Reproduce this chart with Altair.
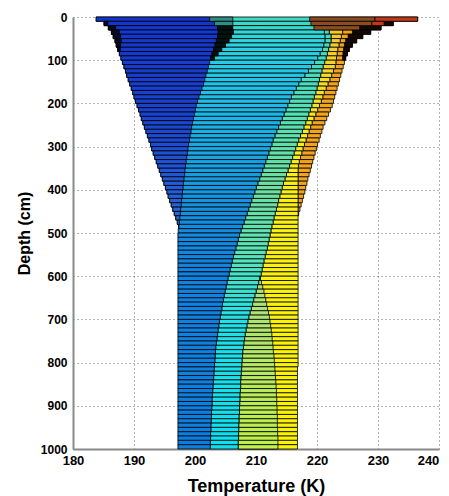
import altair as alt
import pandas as pd

# ---------------- data ----------------
# bars are 10 cm thick rows; row r spans depth 10*r .. 10*r+10 cm
ROW_TOP = list(range(0, 1000, 10))

# left envelope (left edge of dark-blue band, then of the blue band)
C1 = [183.8, 185.1, 185.8, 186.3, 186.6, 186.9, 187.1, 187.35, 187.6, 187.85,
      188.1, 188.35, 188.6, 188.8, 189.05, 189.3, 189.55, 189.8, 190.0, 190.25,
      190.5, 190.75, 191.0, 191.2, 191.45, 191.7, 191.95, 192.2, 192.45, 192.7,
      192.9, 193.15, 193.4, 193.65, 193.9, 194.15, 194.4, 194.65, 194.9, 195.15,
      195.4, 195.6, 195.85, 196.1, 196.35, 196.6, 196.85, 197.1, 197.3, 197.25] + [197.2] * 50

# right edge of dark-blue band (rows 0..48)
C2 = [202.4, 203.2, 203.7, 203.8, 203.7, 203.5, 203.3, 203.05, 202.8, 202.6,
      202.4, 202.2, 202.0, 201.8, 201.6, 201.4, 201.15, 200.9, 200.65, 200.4,
      200.2, 200.05, 199.9, 199.75, 199.6, 199.45, 199.35, 199.2, 199.1, 198.95,
      198.85, 198.75, 198.65, 198.55, 198.45, 198.35, 198.3, 198.2, 198.1, 198.05,
      197.95, 197.9, 197.8, 197.75, 197.65, 197.6, 197.5, 197.45, 197.35]

# blue | cyan boundary
C3 = [219.0, 220.0, 220.8, 221.2, 221.3, 221.3, 221.1, 220.9, 220.5, 220.1,
      219.6, 219.1, 218.6, 218.0, 217.4, 217.0, 216.6, 216.2, 215.8, 215.5,
      215.2, 214.9, 214.6, 214.3, 214.0, 213.7, 213.4, 213.1, 212.8, 212.6,
      212.35, 212.1, 211.85, 211.6, 211.35, 211.1, 210.85, 210.6, 210.3, 210.05,
      209.8, 209.55, 209.3, 209.05, 208.8, 208.55, 208.3, 208.05, 207.8, 207.55,
      207.3, 207.1, 206.9, 206.7, 206.5, 206.3, 206.1, 205.95, 205.75, 205.6,
      205.4, 205.25, 205.1, 204.95, 204.8, 204.65, 204.5, 204.4, 204.25, 204.15,
      204.0, 203.9, 203.8, 203.7, 203.6, 203.5, 203.4, 203.35, 203.3, 203.25,
      203.2, 203.15, 203.1, 203.05, 203.0, 202.95, 202.9, 202.85, 202.8, 202.8,
      202.75, 202.7, 202.7, 202.65, 202.6, 202.6, 202.55, 202.55, 202.5, 202.5]

# cyan | yellow (and cyan | yellow-green) boundary
C4 = [219.8, 220.8, 221.5, 222.0, 222.3, 222.3, 222.1, 221.9, 221.7, 221.5,
      221.25, 221.0, 220.8, 220.6, 220.4, 220.2, 220.0, 219.8, 219.55, 219.35,
      219.15, 218.9, 218.65, 218.4, 218.15, 217.85, 217.6, 217.3, 217.0, 216.75,
      216.5, 216.25, 216.0, 215.75, 215.5, 215.25, 215.0, 214.75, 214.5, 214.3,
      214.1, 213.9, 213.7, 213.55, 213.35, 213.15, 212.95, 212.8, 212.6, 212.45,
      212.3, 212.15, 212.0, 211.85, 211.65, 211.5, 211.3, 211.15, 211.0, 210.85,
      210.65, 210.45, 210.25, 210.05, 209.85, 209.65, 209.45, 209.25, 209.05, 208.85,
      208.7, 208.55, 208.4, 208.25, 208.15, 208.05, 207.95, 207.85, 207.8, 207.75,
      207.7, 207.65, 207.6, 207.55, 207.5, 207.5, 207.45, 207.4, 207.4, 207.35,
      207.3, 207.3, 207.25, 207.25, 207.2, 207.2, 207.15, 207.15, 207.1, 207.1]

# right edge of the yellow-green wedge (rows 60..99)
C5 = [210.7, 210.9, 211.1, 211.3, 211.45, 211.6, 211.75, 211.9, 212.05, 212.2,
      212.3, 212.4, 212.5, 212.6, 212.65, 212.75, 212.8, 212.85, 212.95, 213.0,
      213.05, 213.1, 213.15, 213.2, 213.25, 213.3, 213.35, 213.35, 213.4, 213.4,
      213.45, 213.45, 213.5, 213.5, 213.5, 213.55, 213.55, 213.6, 213.6, 213.6]

# yellow | orange boundary, then right edge of yellow
CYO = [224.5, 224.5, 224.4, 224.2, 224.0, 223.8, 223.6, 223.4, 223.3, 223.2,
       223.1, 223.0, 222.7, 222.4, 222.1, 221.8, 221.5, 221.2, 220.95, 220.7,
       220.4, 220.1, 219.8, 219.5, 219.2, 218.95, 218.7, 218.45, 218.2, 217.95,
       217.7, 217.5, 217.3, 217.1, 216.95, 216.9] + [216.9] * 45 + [216.8] * 19

# right envelope (rows 0..46)
CR = [236.5, 232.5, 230.5, 228.8, 227.5, 226.5, 225.8, 225.3, 225.0, 224.7,
      224.5, 224.3, 224.1, 223.9, 223.7, 223.5, 223.3, 223.1, 222.9, 222.7,
      222.5, 222.2, 221.9, 221.6, 221.3, 221.0, 220.8, 220.55, 220.35, 220.1,
      219.9, 219.7, 219.5, 219.3, 219.1, 218.9, 218.7, 218.5, 218.35, 218.15,
      218.0, 217.8, 217.6, 217.4, 217.2, 217.0, 216.9]

# dense (nearly black) patches near the surface
DARK_R_ROWS = [1, 2, 3, 4, 5, 6, 7, 8, 9]
DARK_R_LO = [231.0, 227.0, 225.8, 225.1, 224.7, 224.5, 224.35, 224.25, 224.2]
DARK_M_ROWS = [2, 3, 4, 5, 6, 7, 8, 9]
DARK_M_HI = [206.2, 206.3, 206.0, 205.6, 205.0, 204.4, 203.8, 203.2]
DARK_L_ROWS = [1, 2, 3, 4, 5, 6, 7]
DARK_L_HI = [185.7, 187.0, 187.6, 187.8, 187.9, 187.8, 187.75]
SPECK_ROWS = [0, 1]
SPECK_HI = [206.2, 206.2]
BROWN_ROWS = [0, 1, 2]
BROWN_LO = [218.8, 219.0, 219.5]
BROWN_HI = [229.5, 229.0, 227.0]
RED_ROWS = [0, 1]
RED_LO = [229.5, 229.0]
RED_HI = [236.5, 231.0]

X_TICKS = [180, 190, 200, 210, 220, 230, 240]
Y_TICKS = [0, 100, 200, 300, 400, 500, 600, 700, 800, 900, 1000]


# ---------------- build tables ----------------
def band(rows, lo, hi):
    recs = []
    for r, a, b in zip(rows, lo, hi):
        if b - a > 0.01:
            recs.append({"d0": ROW_TOP[r], "d1": ROW_TOP[r] + 10,
                         "depth": ROW_TOP[r] + 5, "t0": a, "t1": b})
    return pd.DataFrame(recs)


all_rows = list(range(100))
df_orange = band(range(len(CR)), CYO[:len(CR)], CR)
df_yellow = band(all_rows, C4, CYO)
df_cyan = band(all_rows, C3, C4)
df_yg = band(range(60, 100), C4[60:], C5)
df_blue = band(all_rows, C1, C3)
df_dblue = band(range(len(C2)), C1[:len(C2)], C2)
df_dark_r = band(DARK_R_ROWS, DARK_R_LO, [CR[r] for r in DARK_R_ROWS])
df_dark_m = band(DARK_M_ROWS, [C2[r] for r in DARK_M_ROWS], DARK_M_HI)
df_dark_l = band(DARK_L_ROWS, [C1[r] for r in DARK_L_ROWS], DARK_L_HI)
df_speck = band(SPECK_ROWS, [C2[r] for r in SPECK_ROWS], SPECK_HI)
df_brown = band(BROWN_ROWS, BROWN_LO, BROWN_HI)
df_red = band(RED_ROWS, RED_LO, RED_HI)

FONT = "Liberation Sans"
xscale = alt.Scale(domain=[180, 240], nice=False, zero=False)
yscale = alt.Scale(domain=[0, 1000], reverse=True, nice=False, zero=False)
xaxis = alt.Axis(values=X_TICKS, title="Temperature (K)", grid=True,
                 gridDash=[1, 3], gridColor="#666", gridWidth=1,
                 ticks=False, domainColor="#8a8a8a", domainWidth=2,
                 labelFont=FONT, labelFontWeight="bold", labelFontSize=13,
                 labelColor="black", labelPadding=5, labelFlush=False,
                 labelOffset={"condition": {"test": "datum.value == 240",
                                            "value": -11}, "value": 0},
                 titleFont=FONT, titleFontWeight="bold", titleFontSize=18,
                 titleColor="black", titlePadding=10)
yaxis = alt.Axis(values=Y_TICKS, title="Depth (cm)", grid=True, format="d",
                 gridDash=[1, 3], gridColor="#666", gridWidth=1,
                 ticks=False, domainColor="#8a8a8a", domainWidth=2,
                 labelFont=FONT, labelFontWeight="bold", labelFontSize=12,
                 labelColor="black", labelPadding=6, labelFlush=False,
                 titleFont=FONT, titleFontWeight="bold", titleFontSize=16,
                 titleColor="black", titlePadding=8)


def layer(df, color):
    return alt.Chart(df).mark_rect(stroke="black", strokeWidth=0.8).encode(
        x=alt.X("t0:Q", scale=xscale, axis=xaxis),
        x2="t1:Q",
        y=alt.Y("d0:Q", scale=yscale, axis=yaxis),
        y2="d1:Q",
        color=color,
    )


def grad(domain, rng):
    return alt.Color("depth:Q", scale=alt.Scale(domain=domain, range=rng,
                                                interpolate="rgb"), legend=None)


layers = [
    layer(df_orange, alt.value("#f2a41c")),
    layer(df_yellow, grad([0, 150, 300, 1000],
                          ["#f4c030", "#f6dc28", "#f8ee1c", "#fcf400"])),
    layer(df_cyan, grad([0, 100, 250, 400, 550, 700, 1000],
                        ["#40dcc0", "#40dcc4", "#58e0b0", "#6ee0a0",
                         "#58e4b8", "#20e0e8", "#0ce0f0"])),
    layer(df_yg, grad([600, 1000], ["#a8e080", "#c0f048"])),
    layer(df_blue, grad([0, 60, 150, 300, 450, 600, 1000],
                        ["#40dcc0", "#2cd4e0", "#20c4e8", "#18a8e4",
                         "#1490e0", "#1082e0", "#0c7ee0"])),
    layer(df_dblue, grad([0, 250, 490], ["#1434cc", "#1a46d0", "#2a6ad8"])),
    layer(df_dark_r, alt.value("#140804")),
    layer(df_dark_m, alt.value("#06120f")),
    layer(df_dark_l, alt.value("#050a20")),
    layer(df_speck, alt.value("#2f8f88")),
    layer(df_brown, alt.value("#8c4c22")),
    layer(df_red, alt.value("#c03818")),
]

chart = alt.layer(*layers).resolve_scale(color="independent").properties(
    width=366, height=432,
    autosize=alt.AutoSizeParams(type="none"),
    padding={"left": 65, "top": 9, "right": 2, "bottom": 47},
    background="white",
).configure_view(strokeWidth=0)

chart.save("out.html", embed_options={"renderer": "svg", "actions": False})
